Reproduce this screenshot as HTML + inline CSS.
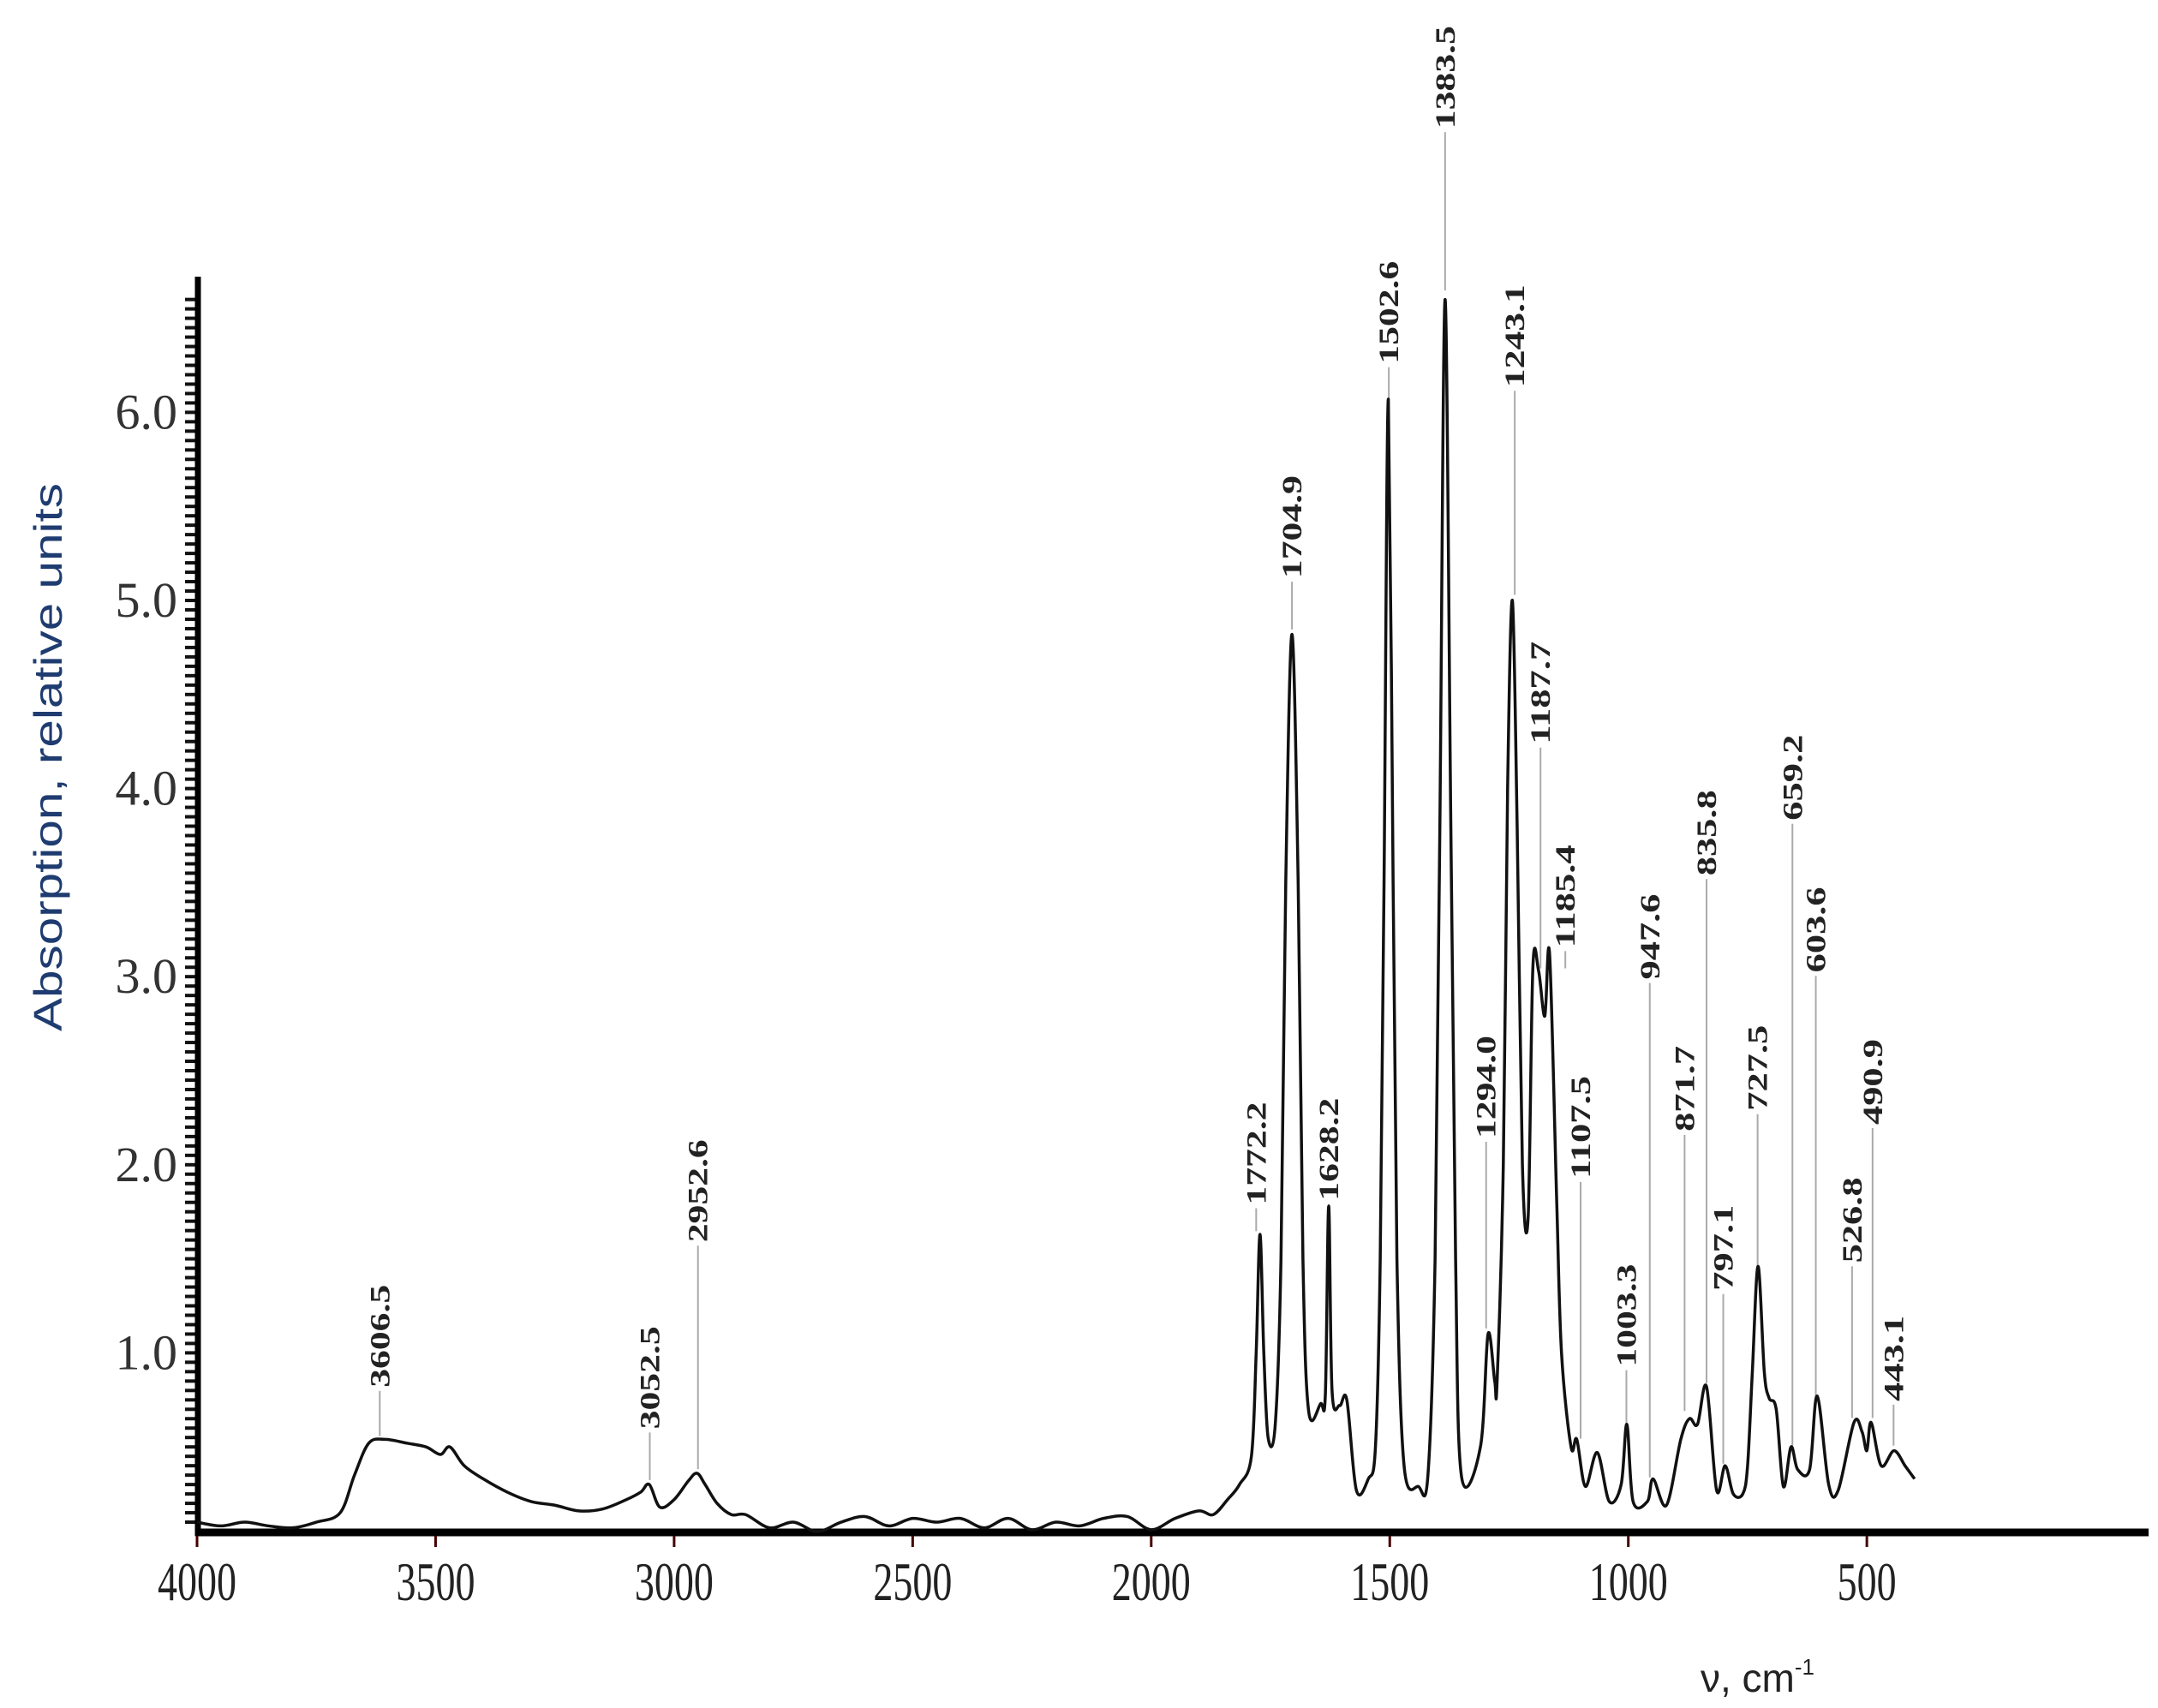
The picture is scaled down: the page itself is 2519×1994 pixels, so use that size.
<!DOCTYPE html>
<html><head><meta charset="utf-8"><style>body{margin:0;background:#fff}svg{display:block}</style></head>
<body>
<svg id="c" width="2519" height="1994" viewBox="0 0 2519 1994" xmlns="http://www.w3.org/2000/svg"></svg>
<script>
const wn=[4000,3950,3900,3850,3800,3750,3700,3670,3640,3606,3560,3520,3490,3470,3440,3400,3350,3300,3250,3200,3150,3100,3070,3052,3030,3000,2970,2952,2935,2910,2880,2850,2800,2750,2700,2650,2600,2550,2500,2450,2400,2350,2300,2250,2200,2150,2100,2050,2000,1950,1900,1870,1840,1815,1790,1780,1772,1764,1755,1740,1728,1718,1705,1692,1682,1670,1645,1635,1628,1621,1605,1590,1570,1545,1530,1520,1512,1503,1493,1485,1470,1440,1420,1405,1395,1384,1372,1362,1350,1310,1294,1280,1275,1262,1253,1243,1233,1222,1210,1200,1188,1175,1165,1150,1140,1120,1108,1090,1065,1040,1015,1003,990,960,948,920,890,872,855,836,815,797,780,760,750,740,728,715,705,690,675,659,645,620,604,580,560,527,510,500,491,470,443,420,400];
const ab=[0.1,0.08,0.1,0.08,0.07,0.1,0.15,0.35,0.52,0.54,0.52,0.5,0.46,0.5,0.4,0.33,0.26,0.21,0.19,0.16,0.17,0.22,0.26,0.3,0.18,0.22,0.32,0.36,0.3,0.2,0.14,0.14,0.07,0.1,0.05,0.1,0.13,0.08,0.12,0.1,0.12,0.07,0.12,0.06,0.1,0.08,0.12,0.13,0.06,0.12,0.16,0.14,0.22,0.3,0.45,1.0,1.63,1.0,0.55,0.62,1.5,3.5,4.82,3.5,1.5,0.69,0.73,0.78,1.78,0.8,0.72,0.75,0.27,0.33,0.5,1.5,3.5,6.07,3.5,1.5,0.4,0.29,0.35,1.5,3.8,6.6,3.8,1.5,0.35,0.5,1.1,0.85,0.85,2.0,4.0,5.0,3.8,2.0,1.72,3.05,3.03,2.79,3.12,1.8,1.0,0.5,0.54,0.29,0.47,0.21,0.3,0.62,0.21,0.21,0.33,0.19,0.54,0.65,0.62,0.82,0.27,0.4,0.25,0.25,0.4,0.9,1.46,0.9,0.76,0.7,0.29,0.5,0.38,0.38,0.77,0.3,0.27,0.63,0.58,0.48,0.63,0.4,0.48,0.4,0.33];
const xTicks=[4000,3500,3000,2500,2000,1500,1000,500];
const yTicks=[1.0,2.0,3.0,4.0,5.0,6.0];
const peakLabels=["3606.5","3052.5","2952.6","1772.2","1704.9","1628.2","1502.6","1383.5","1243.1","1294.0","1187.7","1185.4","1107.5","1003.3","947.6","871.7","835.8","797.1","727.5","659.2","603.6","526.8","490.9","443.1"];
const peakAnchor=[3617,3051,2950,1780,1705,1628,1502,1384,1238,1298,1184,1132,1100,1004,955,882,836,801,729,656,607,531,488,444];
const labelBase=[0.816,0.595,1.588,1.787,5.118,1.809,6.258,7.508,6.133,2.14,4.236,3.154,1.926,0.926,2.985,2.177,3.537,1.331,2.287,3.831,3.022,1.478,2.213,0.743];
const lineEnd=[0.558,0.323,0.382,1.647,4.846,1.78,5.986,6.648,5.03,1.13,3.044,3.044,0.544,0.617,0.338,0.691,0.838,0.411,1.463,0.507,0.764,0.654,0.654,0.507];
const NS="http://www.w3.org/2000/svg",svg=document.getElementById('c');
const X=v=>230+(4000-v)*0.5569, Y=a=>1799-a*219.6;
function mk(t,at,p){const e=document.createElementNS(NS,t);for(const k in at)e.setAttribute(k,at[k]);(p||svg).appendChild(e);return e;}
for(let a=0.1;a<=6.62;a+=0.05){const t=mk('line',{x1:216,x2:231,y1:Y(a),y2:Y(a),stroke:'#111','stroke-width':4});

}
const ya=mk('line',{x1:231,x2:231,y1:323,y2:1793,stroke:'#000','stroke-width':7});


const xa=mk('line',{x1:228,x2:2508,y1:1789,y2:1789,stroke:'#000','stroke-width':9});


yTicks.forEach(v=>{const t=mk('text',{x:207,y:Y(v)+19,'text-anchor':'end','font-family':'Liberation Serif, serif','font-size':58,fill:'#333'});t.textContent=v.toFixed(1);

});
xTicks.forEach(v=>{const tk=mk('line',{x1:X(v),x2:X(v),y1:1793,y2:1806,stroke:'#400','stroke-width':3});


const t=mk('text',{x:X(v),y:1868,'text-anchor':'middle','font-family':'Liberation Serif, serif','font-size':64,fill:'#222',textLength:String(v).length*23,lengthAdjust:'spacingAndGlyphs'});t.textContent=v;

});
peakLabels.forEach((s,i)=>{const x=X(peakAnchor[i]);
const l=mk('line',{x1:x,x2:x,y1:Y(labelBase[i])+4,y2:Y(lineEnd[i]),stroke:'#aaa','stroke-width':2});


const t=mk('text',{x:0,y:0,transform:`translate(${x+11},${Y(labelBase[i])}) rotate(-90)`,'font-family':'Liberation Serif, serif','font-weight':'bold','font-size':33,fill:'#222',textLength:s.length*20,lengthAdjust:'spacingAndGlyphs'});t.textContent=s;

});
const P=wn.map((v,i)=>[X(v),Y(ab[i])]);let d=`M${P[0][0]},${P[0][1]}`;
for(let i=0;i<P.length-1;i++){const p0=P[Math.max(0,i-1)],p1=P[i],p2=P[i+1],p3=P[Math.min(P.length-1,i+2)];
d+=`C${p1[0]+(p2[0]-p0[0])/6},${p1[1]+(p2[1]-p0[1])/6} ${p2[0]-(p3[0]-p1[0])/6},${p2[1]-(p3[1]-p1[1])/6} ${p2[0]},${p2[1]}`;}
const sp=mk('path',{d:d,fill:'none',stroke:'#111','stroke-width':3.5,'stroke-linejoin':'round'});


const yt=mk('text',{x:0,y:0,transform:'translate(72,884) rotate(-90)','text-anchor':'middle','font-family':'Liberation Sans, sans-serif','font-size':46,fill:'#1f3c70',textLength:640,lengthAdjust:'spacingAndGlyphs'});yt.textContent='Absorption, relative units';


const xt=mk('text',{x:1985,y:1975,'font-family':'Liberation Sans, sans-serif','font-size':46,fill:'#222'});xt.innerHTML='ν, cm<tspan dy="-20" font-size="26">-1</tspan>';


</script>
</body></html>
